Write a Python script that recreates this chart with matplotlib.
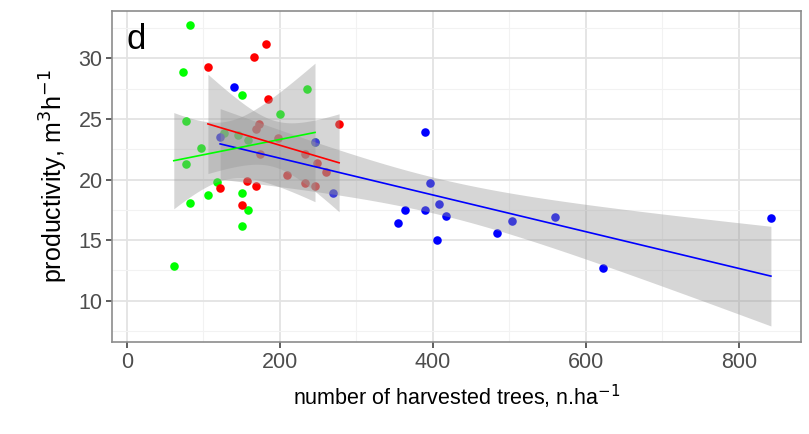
import numpy as np
import matplotlib
matplotlib.use("Agg")
import matplotlib.pyplot as plt
from matplotlib.ticker import MultipleLocator

plt.rcParams["font.family"] = ["Liberation Sans", "DejaVu Sans"]

# data (trees per ha, productivity m3/h)
green_x = [82, 73, 151, 236, 200, 77, 127, 145.5, 158, 97.6, 77, 118, 105.5, 82, 151, 158, 151, 61.4, 246]
green_y = [32.75, 28.9, 27.0, 27.5, 25.4, 24.8, 23.85, 23.7, 23.3, 22.6, 21.3, 19.8, 18.7, 18.1, 18.9, 17.5, 16.2, 12.9, 23.1]

red_x = [106, 166, 182, 185, 277.5, 172.5, 169.5, 197, 174, 233, 248, 260, 209, 233, 246, 157, 169.5, 121.6, 151]
red_y = [29.3, 30.1, 31.2, 26.6, 24.6, 24.6, 24.2, 23.4, 22.1, 22.1, 21.4, 20.6, 20.4, 19.7, 19.5, 19.9, 19.5, 19.3, 17.9]

blue_x = [140, 122, 246.6, 270, 390, 396, 363, 390, 408, 417, 354, 405, 484, 504, 559.5, 622, 842]
blue_y = [27.6, 23.5, 23.1, 18.85, 23.9, 19.7, 17.5, 17.5, 18.0, 17.0, 16.4, 15.0, 15.6, 16.6, 16.9, 12.7, 16.8]

groups = [
    ("#0000FF", blue_x, blue_y),
    ("#00FF00", green_x, green_y),
    ("#FF0000", red_x, red_y),
]


def t_quantile(df, z=1.959964):
    # Cornish-Fisher style approximation of the 97.5% t quantile
    return (z + (z**3 + z) / (4 * df)
            + (5 * z**5 + 16 * z**3 + 3 * z) / (96 * df**2))


def lm_band(x, y, n_out=80):
    x = np.asarray(x, float)
    y = np.asarray(y, float)
    n = len(x)
    slope, icpt = np.polyfit(x, y, 1)
    resid = y - (icpt + slope * x)
    s = np.sqrt(np.sum(resid**2) / (n - 2))
    xs = np.linspace(x.min(), x.max(), n_out)
    fit = icpt + slope * xs
    se = s * np.sqrt(1 / n + (xs - x.mean())**2 / np.sum((x - x.mean())**2))
    t = t_quantile(n - 2)
    return xs, fit, fit - t * se, fit + t * se


fig = plt.figure(figsize=(8.09, 4.34), dpi=100)
ax = fig.add_axes([0.1388, 0.212, 0.851, 0.7627])

# points first, smooth layers on top (like geom_point + geom_smooth)
for col, xs, ys in [groups[1], groups[2], groups[0]]:
    ax.scatter(xs, ys, s=38, color=col, linewidths=0, zorder=2)

for col, xs, ys in groups:
    gx, fit, lo, hi = lm_band(xs, ys)
    ax.fill_between(gx, lo, hi, color="#999999", alpha=0.4, linewidth=0, zorder=3)
    ax.plot(gx, fit, color=col, linewidth=1.2, zorder=4)

ax.set_xlim(-19, 881)
ax.set_ylim(6.6, 33.9)
ax.xaxis.set_major_locator(MultipleLocator(200))
ax.xaxis.set_minor_locator(MultipleLocator(100))
ax.yaxis.set_major_locator(MultipleLocator(5))
ax.yaxis.set_minor_locator(MultipleLocator(2.5))
ax.set_yticks([10, 15, 20, 25, 30])

ax.grid(which="major", color="#E3E3E3", linewidth=1.3, zorder=0)
ax.grid(which="minor", color="#F2F2F2", linewidth=0.8, zorder=0)
ax.set_axisbelow(True)
for sp in ax.spines.values():
    sp.set_color("#8C8C8C")
    sp.set_linewidth(1.2)

ax.tick_params(which="major", length=4, width=1.1, color="#333333",
               labelsize=15.5, labelcolor="#4D4D4D", pad=3)
ax.tick_params(which="minor", length=0)

ax.set_xlabel("number of harvested trees, n.ha$^{-1}$", fontsize=15.5, labelpad=7)
ax.set_ylabel("productivity, m$^{3}$h$^{-1}$", fontsize=18, labelpad=6)

ax.text(0.02, 0.965, "d", transform=ax.transAxes, fontsize=25,
        ha="left", va="top")

fig.savefig("out.png", dpi=100)
